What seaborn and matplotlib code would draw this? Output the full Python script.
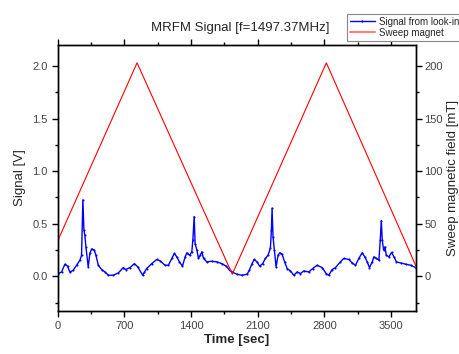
import matplotlib
matplotlib.use('Agg')
import matplotlib.pyplot as plt
import numpy as np
import pandas as pd
import seaborn as sns
from matplotlib.ticker import MultipleLocator

# signal from lock-in
t_sig = [3, 39, 74, 102, 126, 161, 197, 232, 249, 263, 274, 284, 295, 319, 337,
         355, 382, 400, 425, 460, 495, 530, 582, 635, 688, 712, 758, 804, 839,
         891, 910, 933, 986, 1039, 1074, 1126, 1161, 1197, 1224, 1249, 1277, 1309,
         1337, 1355, 1383, 1407, 1418, 1432, 1442, 1460, 1477, 1495, 1513, 1530,
         1565, 1618, 1670, 1723, 1769, 1804, 1829, 1882, 1934, 1987, 2011, 2039,
         2063, 2092, 2119, 2151, 2180, 2207, 2232, 2243, 2250, 2260, 2274, 2292,
         2313, 2330, 2355, 2382, 2408, 2443, 2478, 2513, 2548, 2583, 2635, 2677,
         2723, 2776, 2818, 2845, 2881, 2916, 2968, 3003, 3056, 3091, 3126, 3161,
         3196, 3224, 3249, 3273, 3302, 3319, 3344, 3372, 3386, 3397, 3407, 3421,
         3435, 3450, 3477, 3505, 3530, 3556, 3600, 3653, 3705, 3758]
v_sig = [0.026, 0.04, 0.115, 0.096, 0.04, 0.057, 0.105, 0.153, 0.2, 0.727, 0.44,
         0.39, 0.28, 0.09, 0.22, 0.26, 0.25, 0.2, 0.105, 0.064, 0.041, 0.01, 0.01,
         0.032, 0.083, 0.064, 0.083, 0.12, 0.09, 0.01, 0.04, 0.074, 0.12, 0.16,
         0.147, 0.105, 0.105, 0.17, 0.217, 0.185, 0.137, 0.096, 0.185, 0.223, 0.2,
         0.233, 0.345, 0.568, 0.31, 0.25, 0.17, 0.2, 0.233, 0.17, 0.137, 0.143,
         0.137, 0.12, 0.096, 0.057, 0.041, 0.019, 0.01, 0.019, 0.057, 0.12, 0.16,
         0.137, 0.096, 0.12, 0.17, 0.2, 0.265, 0.44, 0.648, 0.376, 0.25, 0.09, 0.2,
         0.223, 0.21, 0.137, 0.074, 0.051, 0.01, 0.041, 0.026, 0.051, 0.041, 0.074,
         0.105, 0.083, 0.026, 0.01, 0.064, 0.083, 0.137, 0.17, 0.16, 0.127, 0.105,
         0.17, 0.223, 0.185, 0.137, 0.083, 0.137, 0.185, 0.17, 0.153, 0.345, 0.53,
         0.345, 0.25, 0.28, 0.2, 0.185, 0.227, 0.185, 0.137, 0.127, 0.115, 0.105,
         0.083]

# sweep magnet (triangle)
t_mag = [0, 832, 1832, 2820, 3760]
b_mag = [34, 203, 2, 203, 10]

df_sig = pd.DataFrame({'t': t_sig, 'v': v_sig})
df_mag = pd.DataFrame({'t': t_mag, 'b': b_mag})

sns.set_style("ticks")
plt.rcParams['font.family'] = ['Liberation Sans', 'DejaVu Sans']

fig = plt.figure(figsize=(4.59, 3.54), dpi=100)
ax = fig.add_axes([0.126, 0.1215, 0.78, 0.7515])
ax2 = ax.twinx()

sns.lineplot(x='t', y='v', data=df_sig, ax=ax, color='#0000ff', lw=1.0,
             marker='.', markersize=3, markeredgewidth=0, label='Signal from look-in',
             legend=False)
sns.lineplot(x='t', y='b', data=df_mag, ax=ax2, color='#ff0000', lw=0.8,
             label='Sweep magnet', legend=False)

ax.set_xlim(0, 3760)
ax.set_ylim(-0.33, 2.2)
ax2.set_ylim(-33, 220)

ax.set_xticks([0, 700, 1400, 2100, 2800, 3500])
ax.xaxis.set_minor_locator(MultipleLocator(350))
ax.set_yticks([0.0, 0.5, 1.0, 1.5, 2.0])
ax.yaxis.set_minor_locator(MultipleLocator(0.25))
ax2.set_yticks([0, 50, 100, 150, 200])
ax2.yaxis.set_minor_locator(MultipleLocator(25))

for a in (ax, ax2):
    a.tick_params(which='major', direction='out', length=4, width=1,
                  labelsize=8, labelcolor='#444444', color='black')
    a.tick_params(which='minor', direction='out', length=2.5, width=1, color='black')
    for s in a.spines.values():
        s.set_visible(True)
        s.set_color('black')
        s.set_linewidth(1)
ax.tick_params(which='both', top=True, right=False)
ax2.tick_params(which='both', top=False, left=False, right=True)
ax2.tick_params(which='major', pad=2)
ax.yaxis.set_major_formatter(matplotlib.ticker.FormatStrFormatter('%.1f'))

ax.set_xlabel('Time [sec]', fontsize=9.5, fontweight='bold', labelpad=2)
ax.set_ylabel('Signal [V]', fontsize=9.5, labelpad=4)
ax2.set_ylabel('Sweep magnetic field [mT]', fontsize=9.5, labelpad=3)
ax.set_title('MRFM Signal [f=1497.37MHz]', fontsize=9.5, pad=10, x=0.51)

h1, l1 = ax.get_legend_handles_labels()
h2, l2 = ax2.get_legend_handles_labels()
leg = fig.legend(h1 + h2, l1 + l2, loc='upper left',
                 bbox_to_anchor=(342 / 459, 1 - 9 / 354), fontsize=7,
                 frameon=True, fancybox=False, framealpha=1, edgecolor='#888888',
                 handlelength=2.6, handletextpad=0.4, borderpad=0.3, labelspacing=0.1)
leg.get_frame().set_linewidth(0.8)
leg.legend_handles[1].set_color('#ff8080')
leg.legend_handles[1].set_linewidth(1.5)

plt.savefig('out.png', dpi=100)
